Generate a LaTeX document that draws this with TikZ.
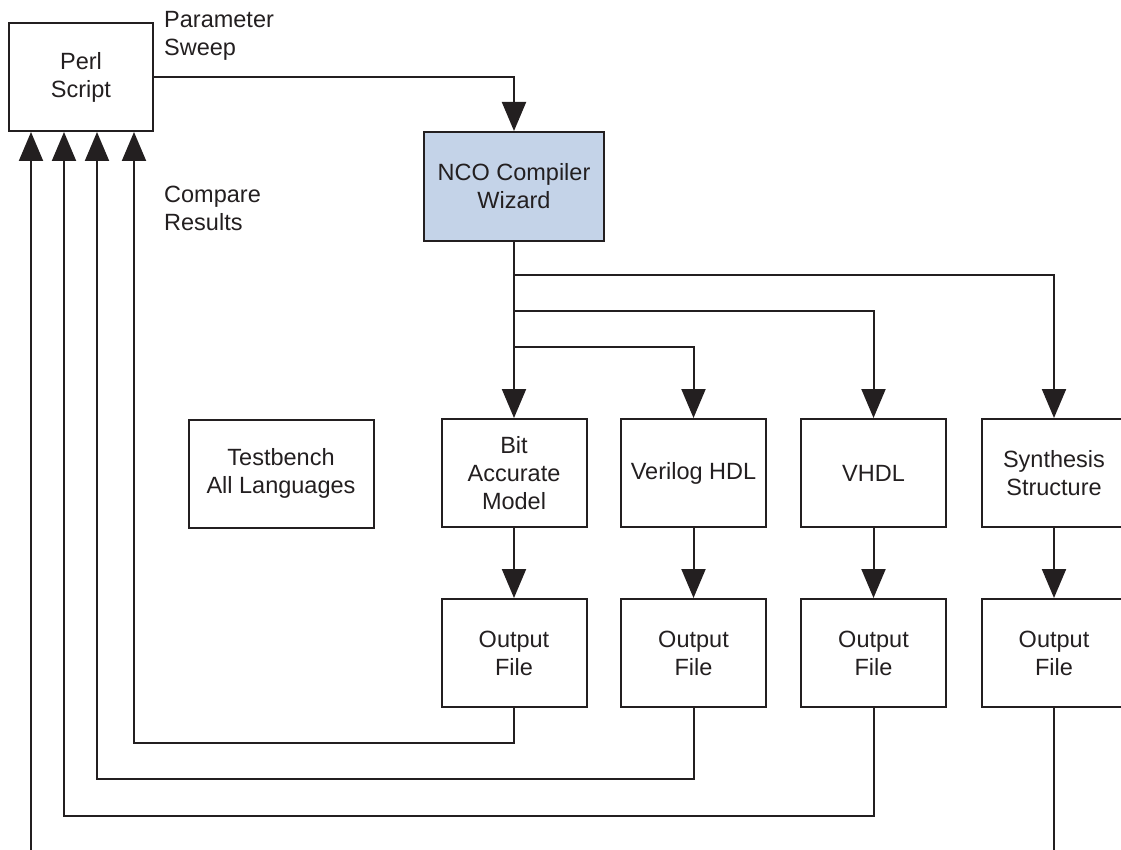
\documentclass[tikz,border=0pt]{standalone}
\usepackage{fontspec}
\setmainfont{Liberation Sans}
\usetikzlibrary{arrows.meta}
\definecolor{ink}{HTML}{231F20}
\definecolor{ncoblue}{HTML}{C4D3E8}
\begin{document}
\begin{tikzpicture}[x=1pt,y=-1pt,
  txt/.style={font=\fontsize{23.5}{28}\selectfont, text=ink},
  box/.style={txt, draw=ink, line width=2pt, minimum width=145pt, minimum height=108pt, inner sep=0pt, align=center},
  lbl/.style={txt, anchor=west, align=left, inner sep=0pt},
  conn/.style={draw=ink, line width=2pt, -{Triangle[width=24pt,length=29pt]}},
  wire/.style={draw=ink, line width=2pt}]
\useasboundingbox (0,0) rectangle (1121,850);
\clip (0,0) rectangle (1121,850);

% nodes
\node[box, minimum width=144pt] (perl) at (81,77) {Perl\\Script};
\node[box, fill=ncoblue, minimum width=180pt, minimum height=109pt] (nco) at (514,186.5) {NCO Compiler\\Wizard};
\node[box, minimum width=185pt] (tb) at (281,473.5) {Testbench\\All Languages};
\node[box] (bit) at (514,473) {Bit\\Accurate\\Model};
\node[box] (ver) at (693.5,473) {Verilog HDL};
\node[box] (vhdl) at (873.5,473) {VHDL};
\node[box, minimum width=144pt] (syn) at (1054,473) {Synthesis\\Structure};
\node[box] (o1) at (514,653) {Output\\File};
\node[box] (o2) at (693.5,653) {Output\\File};
\node[box] (o3) at (873.5,653) {Output\\File};
\node[box, minimum width=144pt] (o4) at (1054,653) {Output\\File};

\node[lbl] (ps) at (164,36) {Parameter\\Sweep};
\node[lbl] (cr) at (164,208) {Compare\\Results};

% forward flow
\draw[conn] (perl.east) -| (nco.north);
\draw[conn] (nco.south) -- (bit.north);
\coordinate (j1) at (514,275);
\coordinate (j2) at (514,311);
\coordinate (j3) at (514,347);
\draw[conn] (j1) -| (syn.north);
\draw[conn] (j2) -| (vhdl.north);
\draw[conn] (j3) -| (ver.north);
\draw[conn] (bit.south) -- (o1.north);
\draw[conn] (ver.south) -- (o2.north);
\draw[conn] (vhdl.south) -- (o3.north);
\draw[conn] (syn.south) -- (o4.north);

% feedback
\coordinate (f1) at (134,743);
\coordinate (f2) at (97,779);
\coordinate (f3) at (64,816);
\coordinate (f4) at (31,880);
\draw[conn] (o1.south) |- (f1) -- (f1 |- perl.south);
\draw[conn] (o2.south) |- (f2) -- (f2 |- perl.south);
\draw[conn] (o3.south) |- (f3) -- (f3 |- perl.south);
\draw[conn] (o4.south) |- (f4) -- (f4 |- perl.south);
\end{tikzpicture}
\end{document}
